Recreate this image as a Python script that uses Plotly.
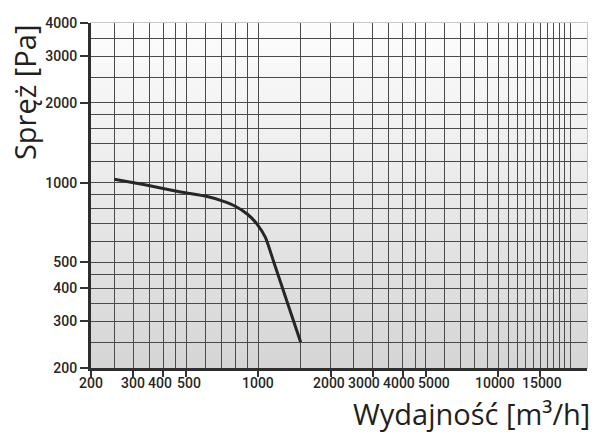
import base64
import numpy as np
import plotly.graph_objects as go

# ---- data ----
flow = [250, 340, 450, 520, 600, 700, 800, 900, 990, 1070, 1160, 1500]          # m3/h
pressure = [1030, 980, 930, 910, 890, 855, 815, 760, 695, 620, 500, 250]         # Pa

x_tick_vals = [200, 300, 400, 500, 1000, 2000, 3000, 4000, 5000, 10000, 15000]
x_tick_text = ["200", "300", "400", "500", "1000", "2000", "3000", "4000", "5000", "10000", "15000"]
x_grid_vals = [250, 350, 450, 600, 700, 800, 900, 1500, 2500, 3500, 4500,
               6000, 7000, 8000, 9000, 11000, 12000, 13000, 14000, 16000,
               17000, 18000, 19000, 20000]

y_tick_vals = [200, 300, 400, 500, 1000, 2000, 3000, 4000]
y_tick_text = ["200", "300", "400", "500", "1000", "2000", "3000", "4000"]
y_grid_vals = [250, 350, 450, 600, 700, 800, 900, 1200, 1400, 1600, 1800, 2500, 3500]

x_min, x_max = 200, 23500
y_min, y_max = 200, 4000

# small horizontal nudges (px) so crowded x labels do not overlap (style only)
x_label_nudge = [0, 0, -3, 3, 0, -2, -9, -4, 8, -3, 2]

# ---- background gradient (decorative) ----
svg = ('<svg xmlns="http://www.w3.org/2000/svg" width="10" height="100" preserveAspectRatio="none">'
       '<defs><linearGradient id="g" x1="0" y1="0" x2="0" y2="1">'
       '<stop offset="0" stop-color="#fdfdfd"/><stop offset="1" stop-color="#d5d5d5"/>'
       '</linearGradient></defs><rect width="10" height="100" fill="url(#g)"/></svg>')
svg_uri = "data:image/svg+xml;base64," + base64.b64encode(svg.encode()).decode()

tick_font = dict(family="Roboto, Liberation Sans, sans-serif", size=14, color="#262626", weight=500)
title_font = dict(family="Open Sans, Noto Sans, sans-serif", size=29, color="#231f20")

fig = go.Figure()
fig.add_trace(go.Scatter(
    x=flow, y=pressure, mode="lines",
    line=dict(color="#262626", width=3, shape="spline", smoothing=0.5),
    hoverinfo="x+y", showlegend=False,
))

grid_color = "#4a4a4a"
gw = 1.3

annotations = [
    dict(text="Spręż [Pa]", xref="paper", yref="paper", x=-0.135, y=0.797,
         xanchor="center", yanchor="middle", textangle=-90, showarrow=False,
         font=title_font),
    dict(text="Wydajność [m³/h]", xref="paper", yref="paper", x=1.010, y=-0.1325,
         xanchor="right", yanchor="middle", showarrow=False, font=title_font),
]
for v, t, dx in zip(x_tick_vals, x_tick_text, x_label_nudge):
    annotations.append(dict(text=t, xref="x", yref="paper", x=np.log10(v), y=0,
                            xanchor="center", yanchor="top", yshift=-5, xshift=dx,
                            showarrow=False, font=tick_font))

fig.update_layout(
    width=594, height=433,
    margin=dict(l=91, r=7, t=23, b=65, autoexpand=False),
    paper_bgcolor="white",
    plot_bgcolor="rgba(0,0,0,0)",
    showlegend=False,
    images=[dict(source=svg_uri, xref="x domain", yref="y domain", x=0, y=1,
                 sizex=1, sizey=1, xanchor="left", yanchor="top",
                 sizing="stretch", layer="below")],
    xaxis=dict(
        type="log", range=[np.log10(x_min), np.log10(x_max)],
        tickmode="array", tickvals=x_tick_vals, ticktext=x_tick_text,
        showticklabels=False,
        ticks="outside", ticklen=6, tickwidth=1.5, tickcolor="#333",
        showgrid=True, gridcolor=grid_color, gridwidth=gw,
        minor=dict(tickmode="array", tickvals=x_grid_vals, ticks="",
                   showgrid=True, gridcolor=grid_color, gridwidth=gw),
        showline=True, linecolor="#2e2e2e", linewidth=3,
        zeroline=False, fixedrange=True, automargin=False,
    ),
    yaxis=dict(
        type="log", range=[np.log10(y_min), np.log10(y_max)],
        tickmode="array", tickvals=y_tick_vals, ticktext=y_tick_text,
        ticks="outside", ticklen=8, tickwidth=1.5, tickcolor="#333",
        tickfont=tick_font, tickangle=0,
        showgrid=True, gridcolor=grid_color, gridwidth=gw,
        minor=dict(tickmode="array", tickvals=y_grid_vals, ticks="",
                   showgrid=True, gridcolor=grid_color, gridwidth=gw),
        showline=True, linecolor="#2e2e2e", linewidth=3,
        zeroline=False, fixedrange=True, automargin=False,
    ),
    shapes=[dict(type="rect", xref="x domain", yref="y domain", x0=0, x1=1, y0=0, y1=1,
                 line=dict(color="#b5b5b5", width=1.5), fillcolor="rgba(0,0,0,0)", layer="below")],
    annotations=annotations,
)

fig.write_html("out.html",
               config={"displayModeBar": False},
               post_script="document.body.style.margin='0px';document.body.style.padding='0px';")
